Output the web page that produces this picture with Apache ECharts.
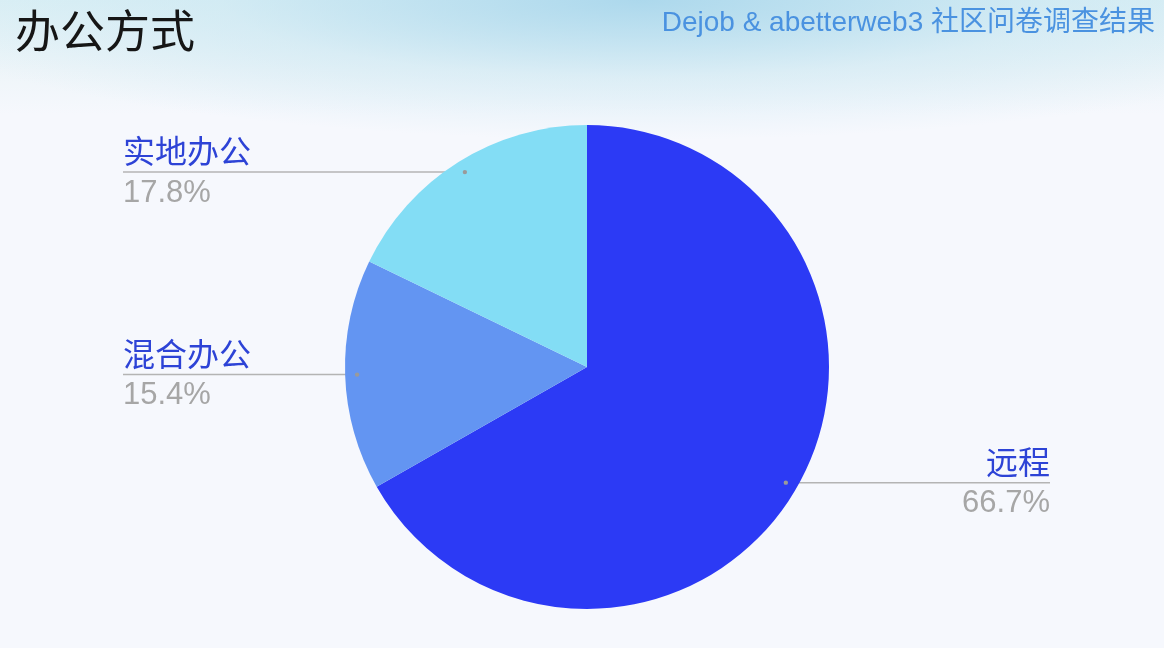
<!DOCTYPE html>
<html lang="zh-CN">
<head>
    <meta charset="UTF-8">
    <title>办公方式</title>
    <script src="https://cdn.jsdelivr.net/npm/echarts@6/dist/echarts.min.js"></script>
    <style>
        html, body { margin: 0; padding: 0; }
        body {
            width: 1164px; height: 648px; overflow: hidden;
            background:
                radial-gradient(ellipse 760px 140px at 640px 0px, rgba(170,215,236,0.95), rgba(200,230,242,0.5) 55%, rgba(245,247,252,0) 100%),
                linear-gradient(to bottom, #dcf0f5 0px, #eef5f9 70px, #f6f8fd 115px, #f6f8fd 648px);
        }
    </style>
</head>
<body>
    <div id="main" style="width: 1164px;height:648px;"></div>
    <script type="text/javascript">
        // data
        const categories = ['远程', '混合办公', '实地办公'];
        const shares = [66.7, 15.4, 17.8];
        const colors = ['#2c3af5', '#6395f2', '#83ddf5'];

        // pie geometry
        const cx = 587, cy = 367, radius = 242, anchorR = 230;
        const total = shares.reduce((a, b) => a + b, 0);

        // point inside the slice where the label line starts
        function anchorOf(i) {
            let before = 0;
            for (let k = 0; k < i; k++) before += shares[k];
            const mid = (before + shares[i] / 2) / total * Math.PI * 2;
            return [cx + anchorR * Math.sin(mid), cy - anchorR * Math.cos(mid)];
        }

        let myChart = echarts.init(document.getElementById('main'));

        let options = {
            backgroundColor: 'transparent',
            animation: false,
            title: [
                {
                    text: '办公方式', left: 10, top: 3,
                    textStyle: { fontSize: 45, fontWeight: 'normal', color: '#161616', fontFamily: 'Noto Sans CJK SC' }
                },
                {
                    text: 'Dejob & abetterweb3 社区问卷调查结果', right: 4, top: 4,
                    textStyle: {
                        fontSize: 28, fontWeight: 'normal',
                        fontFamily: '"Liberation Sans", "Noto Sans CJK SC"',
                        color: '#4a92e0'
                    }
                }
            ],
            graphic: categories.map((c, i) => {
                const a = anchorOf(i);
                return { type: 'circle', z: 100, shape: { cx: a[0], cy: a[1], r: 2.2 }, style: { fill: '#9a9a9a' } };
            }),
            series: [{
                type: 'pie',
                center: [cx, cy],
                radius: radius,
                startAngle: 90,
                clockwise: true,
                emphasis: { disabled: true },
                data: categories.map((c, i) => ({ name: c, value: shares[i], itemStyle: { color: colors[i] } })),
                label: {
                    show: true,
                    position: 'outside',
                    formatter: '{n|{b}}\n{p|{c}%}',
                    rich: {
                        n: { fontSize: 32, color: '#2d43d6', lineHeight: 42, fontFamily: '"Noto Sans CJK SC"' },
                        p: { fontSize: 31, color: '#a6a6a6', lineHeight: 42, fontFamily: '"Liberation Sans"' }
                    }
                },
                labelLine: {
                    show: true,
                    lineStyle: { color: '#b4b4b4', width: 1.5 }
                },
                labelLayout: function (p) {
                    const a = anchorOf(p.dataIndex);
                    const left = a[0] < cx;
                    const ex = left ? 123 : 1050;
                    return {
                        x: ex,
                        y: a[1],
                        align: left ? 'left' : 'right',
                        verticalAlign: 'middle',
                        labelLinePoints: [a, [(a[0] + ex) / 2, a[1]], [ex, a[1]]]
                    };
                }
            }]
        };

        myChart.setOption(options);
    </script>
</body>
</html>
